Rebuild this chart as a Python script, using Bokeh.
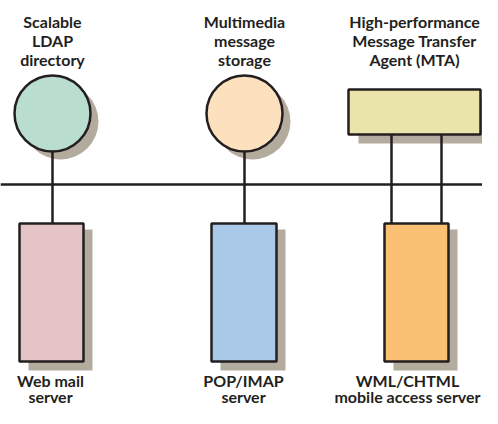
from bokeh.plotting import figure
from bokeh.models import Range1d
from bokeh.core.properties import value
from bokeh.embed import file_html
from bokeh.resources import INLINE

# --- diagram data (pixel coordinates of the drawing) ---
circle_names = ["Scalable LDAP directory", "Multimedia message storage"]
circle_x = [52, 244]
circle_y = [113, 113]
circle_r = [38, 38]
circle_colors = ["#b9ddcf", "#fde1bf"]

mta_left = [348]
mta_right = [480]
mta_top = [89]
mta_bottom = [134]
mta_color = "#ebe4aa"

server_names = ["Web mail server", "POP/IMAP server", "WML/CHTML mobile access server"]
server_left = [19, 211, 384]
server_right = [83, 276, 448]
server_top = [223, 223, 223]
server_bottom = [361, 361, 361]
server_colors = ["#e4c4c4", "#aac9e8", "#f9c074"]

bus_y = 184
link_x = [52, 244, 391, 441]
link_top = [151, 151, 134, 134]
link_bottom = [223, 223, 223, 223]

top_label_x = [52, 244, 414]
top_label_lines = [["Scalable", "LDAP", "directory"],
                   ["Multimedia", "message", "storage"],
                   ["High-performance", "Message Transfer", "Agent (MTA)"]]
top_baselines = [21, 40, 59]

bottom_label_x = [50, 243, 407]
bottom_label_lines = [["Web mail", "server"],
                      ["POP/IMAP", "server"],
                      ["WML/CHTML", "mobile access server"]]
bottom_baselines = [380, 396]

SHADOW = "#b4ab9f"
INK = "#231f20"

p = figure(width=482, height=408, output_backend="svg", toolbar_location=None,
           x_range=Range1d(0, 482), y_range=Range1d(408, 0), min_border=0)
p.axis.visible = False
p.grid.visible = False
p.outline_line_color = None
p.background_fill_color = "white"
p.border_fill_color = "white"

# shadows
p.circle([x + 8 for x in circle_x], [y + 8 for y in circle_y], radius=circle_r,
         fill_color=SHADOW, line_color=None)
p.quad(left=[l + 10 for l in mta_left], right=[r + 11 for r in mta_right],
       top=[t + 9 for t in mta_top], bottom=[b + 9 for b in mta_bottom],
       fill_color=SHADOW, line_color=None)
p.quad(left=[l + 9 for l in server_left], right=[r + 9 for r in server_right],
       top=[t + 6 for t in server_top], bottom=[b + 9 for b in server_bottom],
       fill_color=SHADOW, line_color=None)

# bus and links
p.segment(x0=[0], y0=[bus_y], x1=[520], y1=[bus_y], line_color=INK, line_width=2.5)
p.segment(x0=link_x, y0=link_top, x1=link_x, y1=link_bottom, line_color=INK, line_width=2.5)

# nodes
p.circle(circle_x, circle_y, radius=circle_r, fill_color=circle_colors,
         line_color=INK, line_width=2.5)
p.quad(left=mta_left, right=mta_right, top=mta_top, bottom=mta_bottom,
       fill_color=mta_color, line_color=INK, line_width=2.5)
p.quad(left=server_left, right=server_right, top=server_top, bottom=server_bottom,
       fill_color=server_colors, line_color=INK, line_width=2.5)

# labels
for lx, lines in zip(top_label_x, top_label_lines):
    p.text(x=[lx] * len(lines), y=top_baselines[:len(lines)], text=lines,
           text_align="center", text_baseline="alphabetic",
           text_font=value("Lato"), text_font_style="bold",
           text_font_size="16px", text_color=INK)
for lx, lines in zip(bottom_label_x, bottom_label_lines):
    p.text(x=[lx] * len(lines), y=bottom_baselines[:len(lines)], text=lines,
           text_align="center", text_baseline="alphabetic",
           text_font=value("Lato"), text_font_style="bold",
           text_font_size="16px", text_color=INK)

open("out.html", "w").write(file_html(p, INLINE))
